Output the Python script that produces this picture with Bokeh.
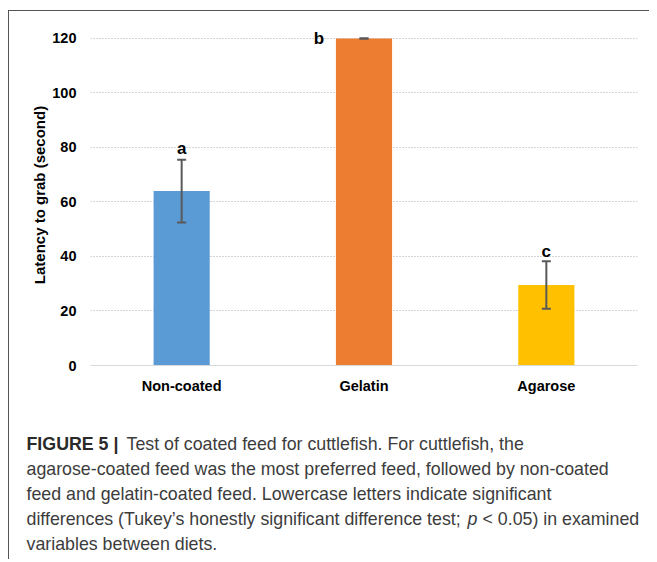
from bokeh.plotting import figure
from bokeh.layouts import column
from bokeh.models import ColumnDataSource, Whisker, Label, Range1d, TeeHead, FixedTicker
from bokeh.embed import file_html
from bokeh.resources import INLINE
from bokeh.core.properties import value

# ---- data ----
categories = ["Non-coated", "Gelatin", "Agarose"]
means = [64.0, 120.0, 29.5]
errors = [11.5, 0.0, 8.7]
letters = ["a", "b", "c"]
y_ticks = [0, 20, 40, 60, 80, 100, 120]
y_label = "Latency to grab (second)"

# ---- styles ----
bar_colors = ["#5B9BD5", "#ED7D31", "#FFC000"]
letter_dx = [0, -45, 0]
letter_dy = [-11, 0, -10]
FONT = "Liberation Sans"

src = ColumnDataSource(dict(
    cat=categories, mean=means,
    upper=[m + e for m, e in zip(means, errors)],
    lower=[m - e for m, e in zip(means, errors)],
    color=bar_colors, letter=letters, dx=letter_dx, dy=letter_dy,
))

W = 640
p = figure(x_range=categories, y_range=Range1d(0, 125.1), width=W, height=390,
           output_backend="svg", toolbar_location=None,
           min_border_left=81, min_border_right=12, min_border_top=13, min_border_bottom=36)
p.frame_align = False
p.outline_line_color = None
p.background_fill_color = "white"
p.border_fill_color = "white"

p.vbar(x="cat", top="mean", width=0.308, color="color", line_color=None, source=src)

w = Whisker(base="cat", upper="upper", lower="lower", source=src, level="overlay",
            line_color="#595959", line_width=2,
            upper_head=TeeHead(size=9, line_color="#595959", line_width=2),
            lower_head=TeeHead(size=9, line_color="#595959", line_width=2))
p.add_layout(w)

p.text(x="cat", y="upper", text="letter", x_offset="dx", y_offset="dy", source=src,
       text_font=value(FONT), text_font_style="bold", text_font_size="17px",
       text_align="center", text_baseline="alphabetic", text_color="black")

# axes
p.xgrid.visible = False
p.ygrid.grid_line_color = "#aaaaaa"
p.ygrid.grid_line_dash = "1 2"
p.yaxis.ticker = FixedTicker(ticks=y_ticks)
p.yaxis.axis_line_color = None
p.yaxis.major_tick_line_color = None
p.yaxis.major_tick_out = 0
p.yaxis.major_tick_in = 0
p.yaxis.minor_tick_line_color = None
p.yaxis.major_label_standoff = 14
p.yaxis.major_label_text_font = FONT
p.yaxis.major_label_text_font_style = "bold"
p.yaxis.major_label_text_font_size = "14.5px"
p.yaxis.major_label_text_color = "black"
p.yaxis.axis_label = y_label
p.yaxis.axis_label_standoff = 1
p.yaxis.axis_label_text_font = FONT
p.yaxis.axis_label_text_font_style = "bold"
p.yaxis.axis_label_text_font_size = "15px"
p.yaxis.axis_label_text_color = "black"

p.xaxis.axis_line_color = "#d9d9d9"
p.xaxis.major_tick_line_color = None
p.xaxis.major_tick_out = 0
p.xaxis.major_tick_in = 0
p.xaxis.major_label_standoff = 12
p.xaxis.major_label_text_font = FONT
p.xaxis.major_label_text_font_style = "bold"
p.xaxis.major_label_text_font_size = "14.5px"
p.xaxis.major_label_text_color = "black"

# ---- caption panel ----
CH = 158
c = figure(width=W, height=CH, x_range=Range1d(0, W), y_range=Range1d(CH, 0),
           output_backend="svg", toolbar_location=None,
           x_axis_type=None, y_axis_type=None, min_border=0)
c.frame_align = False
c.outline_line_color = None
c.xgrid.visible = False
c.ygrid.visible = False
c.background_fill_color = "white"
c.border_fill_color = "white"

cap_color = "#3c3c3c"
base = [42, 67, 92, 117, 142]
X0 = 17
CAP_SIZE = "17.8px"

def cap(x, y, t, style="normal", align="left", color=cap_color):
    c.add_layout(Label(x=x, y=y, text=t, text_align=align, text_baseline="alphabetic",
                       text_font=FONT, text_font_style=style, text_font_size=CAP_SIZE,
                       text_color=color))

cap(X0, base[0], "FIGURE 5 |", style="bold", color="#2a2a2a")
cap(117, base[0], "Test of coated feed for cuttlefish. For cuttlefish, the")
cap(X0, base[1], "agarose-coated feed was the most preferred feed, followed by non-coated")
cap(X0, base[2], "feed and gelatin-coated feed. Lowercase letters indicate significant")
cap(X0, base[3], "differences (Tukey\u2019s honestly significant difference test;")
cap(458, base[3], "p", style="italic")
cap(473, base[3], "< 0.05) in examined")
cap(X0, base[4], "variables between diets.")

layout = column(p, c, spacing=0)
layout.styles = {"border-top": "1px solid #555555", "border-left": "1px solid #555555",
                 "margin-top": "10px", "margin-left": "8px"}

open("out.html", "w").write(file_html(layout, INLINE))
